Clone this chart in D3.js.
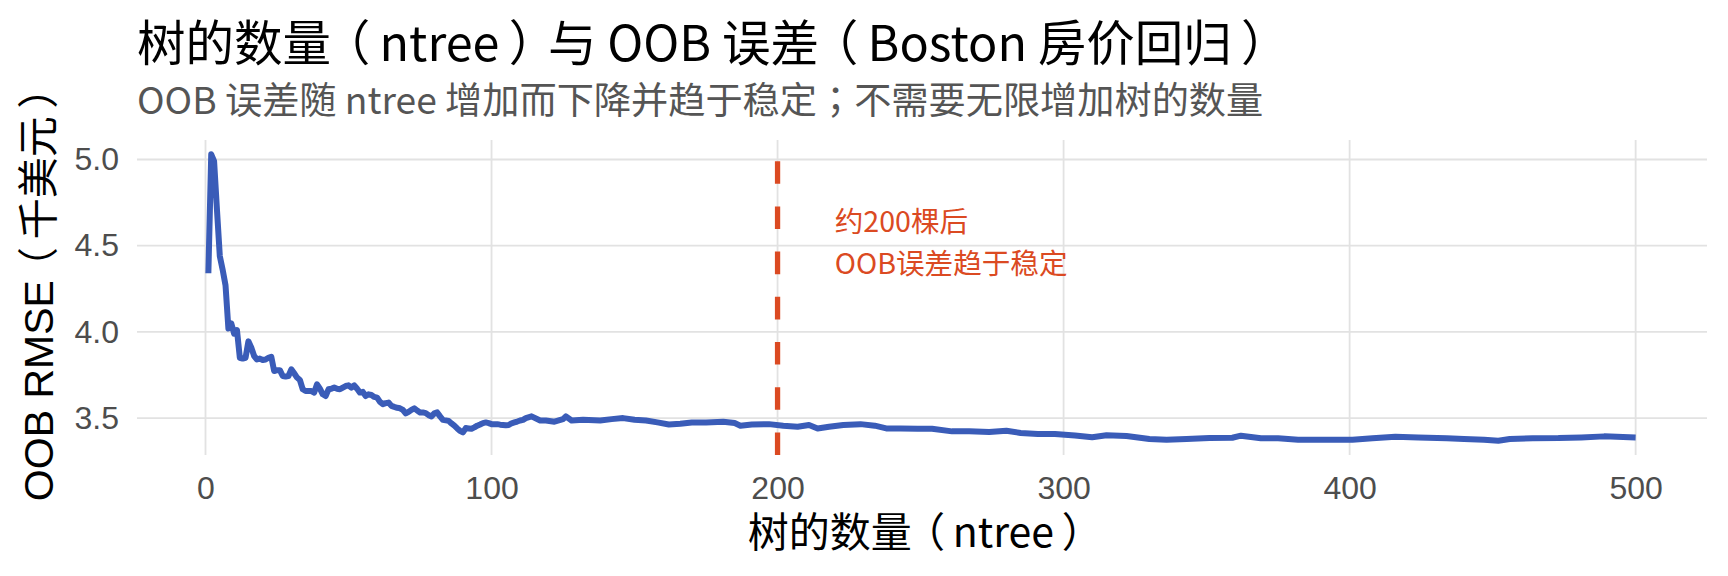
<!DOCTYPE html>
<html>
<head>
<meta charset="utf-8">
<script src="https://cdn.jsdelivr.net/npm/d3@7"></script>
<style>
  html, body { margin: 0; padding: 0; background: #ffffff; }
  svg { display: block; }
  .halt { font-feature-settings: "halt" 1; }
</style>
</head>
<body>
<svg id="chart" width="1728" height="576"></svg>
<script>
// ---------------- data ----------------
const ntree = [
  1,2,3,4,5,6,7,8,9,10,11,12,13,14,15,16,17,18,19,20,
  21,22,23,24,25,26,27,28,29,30,31,32,33,34,35,36,37,38,39,40,
  41,42,43,44,45,46,47,48,49,50,51,52,53,54,55,56,57,58,59,60,
  61,62,63,64,65,66,67,68,69,70,71,72,73,74,75,76,77,78,79,80,
  81,82,83,84,85,86,87,88,89,90,91,92,93,94,95,96,97,98,99,100,
  101,102,103,104,105,106,107,108,109,110,111,112,114,117,119,122,125,126,128,132,
  138,142,146,150,154,158,162,166,170,175,181,185,187,191,197,202,207,211,214,218,
  223,229,234,238,243,249,254,261,267,274,280,285,291,297,304,310,315,322,330,336,
  343,351,359,362,369,375,382,391,401,408,416,424,434,440,447,452,456,464,473,481,
  489,500
];
const rmse = [
  4.34,5.03,4.99,4.71,4.44,4.36,4.27,4.02,4.05,3.99,4.01,3.85,3.845,3.85,3.945,3.91,3.86,3.84,3.845,3.837,
  3.84,3.85,3.856,3.773,3.778,3.778,3.744,3.741,3.744,3.783,3.76,3.735,3.721,3.667,3.657,3.657,3.657,3.648,3.696,3.671,
  3.638,3.628,3.667,3.67,3.677,3.67,3.667,3.677,3.686,3.69,3.677,3.69,3.67,3.648,3.652,3.628,3.638,3.634,3.623,3.619,
  3.594,3.581,3.587,3.59,3.571,3.565,3.56,3.557,3.548,3.527,3.536,3.548,3.557,3.544,3.533,3.533,3.529,3.517,3.51,3.527,
  3.533,3.51,3.49,3.487,3.484,3.469,3.456,3.44,3.426,3.417,3.442,3.44,3.438,3.446,3.456,3.463,3.471,3.475,3.471,3.465,
  3.465,3.465,3.462,3.46,3.458,3.46,3.47,3.475,3.48,3.486,3.49,3.50,3.51,3.486,3.486,3.479,3.494,3.51,3.486,3.49,
  3.486,3.494,3.50,3.49,3.486,3.475,3.463,3.467,3.475,3.475,3.479,3.471,3.456,3.463,3.465,3.456,3.45,3.46,3.44,3.45,
  3.46,3.465,3.456,3.44,3.44,3.438,3.438,3.423,3.423,3.419,3.427,3.414,3.408,3.408,3.399,3.389,3.40,3.396,3.379,3.375,
  3.379,3.385,3.386,3.398,3.383,3.383,3.375,3.375,3.375,3.383,3.392,3.388,3.383,3.379,3.375,3.369,3.379,3.383,3.384,3.388,
  3.394,3.388
];
const xTicks = [0, 100, 200, 300, 400, 500];
const yTicks = [3.5, 4.0, 4.5, 5.0];
const yTickLabels = ["3.5", "4.0", "4.5", "5.0"];
const refTree = 200;
const annotationLines = ["约200棵后", "OOB误差趋于稳定"];
const annotationTree = 220;   // ntree where the note starts
const titleText = "树的数量（ntree）与 OOB 误差（Boston 房价回归）";
const subtitleText = "OOB 误差随 ntree 增加而下降并趋于稳定；不需要无限增加树的数量";
const xTitle = "树的数量（ntree）";
const yTitle = "OOB RMSE（千美元）";

// ---------------- layout ----------------
const panel = { left: 137, right: 1707, top: 140, bottom: 455 };
const cjk = "'Noto Sans CJK TC', 'Noto Sans CJK SC', 'Noto Sans', sans-serif";
const latin = "'Liberation Sans', Arial, 'Noto Sans CJK TC', sans-serif";
const bracketFont = "'Noto Sans CJK TC', sans-serif";
const blue = "#3A5CB8";
const red = "#DB4A22";

// writes text into a <text>; full-width brackets use half-width forms padded
// on both sides (total one em), so each bracket sits centred in its slot
function setText(sel, str, fontSize) {
  const outer = 0.31 * fontSize, inner = 0.19 * fontSize;
  let buf = "", pending = 0;
  const flush = () => {
    if (buf) { sel.append("tspan").attr("dx", pending || null).text(buf); pending = 0; buf = ""; }
  };
  for (const ch of str) {
    if (ch === "（" || ch === "）") {
      flush();
      const before = ch === "（" ? outer : inner;
      const after = ch === "（" ? inner : outer;
      sel.append("tspan").attr("class", "halt").attr("font-family", bracketFont)
        .attr("dx", pending + before).text(ch);
      pending = after;
    } else {
      buf += ch;
    }
  }
  flush();
}

const data = ntree.map((n, i) => ({ n, v: rmse[i] }));
const xe = d3.extent(ntree), ye = d3.extent(rmse);
const xr = xe[1] - xe[0], yr = ye[1] - ye[0];
const x = d3.scaleLinear().domain([xe[0] - 0.05 * xr, xe[1] + 0.05 * xr]).range([panel.left, panel.right]);
const y = d3.scaleLinear().domain([ye[0] - 0.05 * yr, ye[1] + 0.05 * yr]).range([panel.bottom, panel.top]);

const svg = d3.select("#chart");
svg.append("rect").attr("width", 1728).attr("height", 576).attr("fill", "#fff");

// grid
const grid = svg.append("g");
grid.selectAll("line.h").data(yTicks).join("line")
  .attr("x1", panel.left).attr("x2", panel.right)
  .attr("y1", d => y(d)).attr("y2", d => y(d))
  .attr("stroke", "#E2E2E2").attr("stroke-width", 1.8);
grid.selectAll("line.v").data(xTicks).join("line")
  .attr("x1", d => x(d)).attr("x2", d => x(d))
  .attr("y1", panel.top).attr("y2", panel.bottom)
  .attr("stroke", "#E2E2E2").attr("stroke-width", 1.8);

// axes (labels only)
const xAxis = svg.append("g").attr("transform", `translate(0,${panel.bottom})`)
  .call(d3.axisBottom(x).tickValues(xTicks).tickSize(0).tickPadding(21).tickFormat(d3.format("d")));
const yAxis = svg.append("g").attr("transform", `translate(${panel.left},0)`)
  .call(d3.axisLeft(y).tickValues(yTicks).tickSize(0).tickPadding(18).tickFormat((d, i) => yTickLabels[i]));
[xAxis, yAxis].forEach(a => {
  a.select(".domain").remove();
  a.selectAll("text").attr("font-family", latin).attr("font-size", 32).attr("fill", "#4D4D4D");
});

// reference line
svg.append("line")
  .attr("x1", x(refTree)).attr("x2", x(refTree))
  .attr("y1", panel.bottom).attr("y2", panel.top)
  .attr("stroke", red).attr("stroke-width", 5.3)
  .attr("stroke-dasharray", "22.6 22.6");

// series line
svg.append("path").datum(data)
  .attr("fill", "none").attr("stroke", blue).attr("stroke-width", 6)
  .attr("stroke-linejoin", "round")
  .attr("d", d3.line().x(d => x(d.n)).y(d => y(d.v)));

// annotation
const ann = svg.append("text")
  .attr("font-family", cjk).attr("font-size", 28.6).attr("fill", red);
annotationLines.forEach((t, i) => {
  ann.append("tspan").attr("x", x(annotationTree)).attr("y", 232 + i * 42).text(t);
});

// titles
const tTitle = svg.append("text").attr("x", 137).attr("y", 61)
  .attr("font-family", cjk).attr("font-size", 48.5).attr("fill", "#000");
setText(tTitle, titleText, 48.5);
svg.append("text").attr("x", 137).attr("y", 114)
  .attr("font-family", cjk).attr("font-size", 37.2).attr("fill", "#555").text(subtitleText);
const tX = svg.append("text").attr("x", 915).attr("y", 547)
  .attr("text-anchor", "middle")
  .attr("font-family", cjk).attr("font-size", 41).attr("fill", "#000");
setText(tX, xTitle, 41);
const tY = svg.append("text")
  .attr("transform", `translate(53,${(panel.top + panel.bottom) / 2 - 3}) rotate(-90)`)
  .attr("text-anchor", "middle")
  .attr("font-family", latin).attr("font-size", 41).attr("fill", "#000");
setText(tY, yTitle, 41);
</script>
</body>
</html>
